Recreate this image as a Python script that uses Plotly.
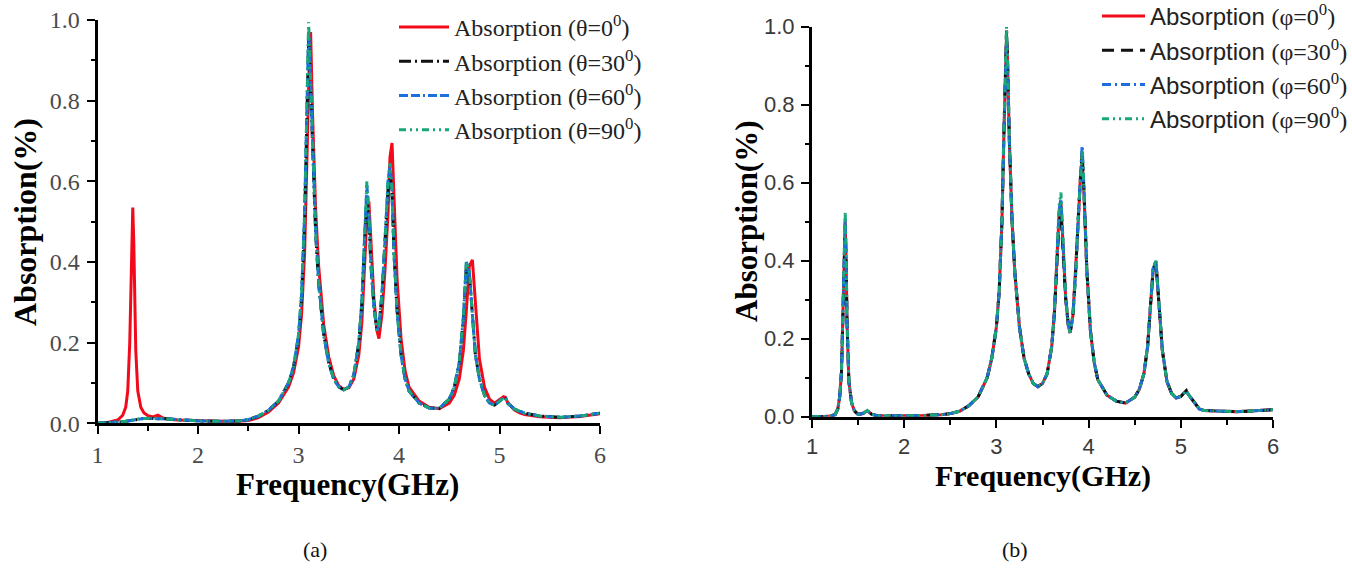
import plotly.graph_objects as go

# ---------------- data ----------------
FREQ_GHZ = [
    1.00, 1.10, 1.20, 1.25, 1.28, 1.30, 1.32, 1.34, 1.35, 1.36,
    1.37, 1.38, 1.40, 1.43, 1.46, 1.50, 1.55, 1.60, 1.65, 1.70,
    1.80, 1.90, 2.00, 2.20, 2.40, 2.50, 2.60, 2.70, 2.80, 2.90,
    2.95, 3.00, 3.03, 3.06, 3.08, 3.10, 3.11, 3.12, 3.14, 3.17,
    3.20, 3.25, 3.30, 3.35, 3.40, 3.45, 3.50, 3.55, 3.60, 3.63,
    3.66, 3.68, 3.70, 3.72, 3.75, 3.78, 3.80, 3.83, 3.86, 3.89,
    3.91, 3.93, 3.95, 3.98, 4.02, 4.06, 4.10, 4.20, 4.30, 4.40,
    4.50, 4.55, 4.60, 4.64, 4.67, 4.70, 4.73, 4.76, 4.80, 4.85,
    4.90, 4.95, 5.00, 5.04, 5.06, 5.08, 5.15, 5.20, 5.25, 5.40,
    5.60, 5.80, 6.00,
]

# (a) incidence angle theta
THETA_0 = [
    0.000, 0.002, 0.008, 0.020, 0.040, 0.080, 0.200, 0.440, 0.535, 0.450,
    0.300, 0.180, 0.080, 0.040, 0.026, 0.019, 0.016, 0.020, 0.013, 0.010,
    0.008, 0.007, 0.006, 0.005, 0.005, 0.007, 0.014, 0.028, 0.050, 0.090,
    0.125, 0.190, 0.270, 0.420, 0.620, 0.850, 0.930, 0.970, 0.760, 0.530,
    0.390, 0.245, 0.165, 0.118, 0.093, 0.084, 0.088, 0.110, 0.170, 0.250,
    0.400, 0.510, 0.550, 0.450, 0.310, 0.230, 0.210, 0.270, 0.380, 0.520,
    0.660, 0.695, 0.550, 0.360, 0.210, 0.130, 0.090, 0.055, 0.040, 0.036,
    0.050, 0.070, 0.110, 0.180, 0.280, 0.390, 0.405, 0.290, 0.160, 0.090,
    0.060, 0.050, 0.058, 0.066, 0.064, 0.052, 0.033, 0.026, 0.022, 0.016,
    0.014, 0.017, 0.024,
]
THETA_30 = [
    0.000, 0.001, 0.003, 0.004, 0.005, 0.006, 0.007, 0.008, 0.008, 0.009,
    0.009, 0.010, 0.010, 0.011, 0.012, 0.012, 0.012, 0.012, 0.011, 0.011,
    0.009, 0.007, 0.006, 0.005, 0.006, 0.009, 0.018, 0.032, 0.055, 0.100,
    0.140, 0.215, 0.310, 0.500, 0.720, 0.950, 0.900, 0.830, 0.660, 0.470,
    0.345, 0.220, 0.150, 0.110, 0.090, 0.083, 0.090, 0.120, 0.200, 0.300,
    0.470, 0.550, 0.500, 0.390, 0.290, 0.230, 0.240, 0.320, 0.450, 0.580,
    0.620, 0.570, 0.420, 0.280, 0.170, 0.110, 0.080, 0.050, 0.038, 0.037,
    0.060, 0.090, 0.150, 0.260, 0.390, 0.370, 0.270, 0.170, 0.110, 0.070,
    0.050, 0.045, 0.055, 0.064, 0.062, 0.050, 0.035, 0.030, 0.025, 0.018,
    0.015, 0.018, 0.025,
]
THETA_60 = [
    0.000, 0.001, 0.003, 0.004, 0.005, 0.006, 0.007, 0.008, 0.008, 0.009,
    0.009, 0.010, 0.010, 0.011, 0.012, 0.012, 0.012, 0.012, 0.011, 0.011,
    0.009, 0.007, 0.006, 0.005, 0.006, 0.009, 0.018, 0.032, 0.055, 0.100,
    0.140, 0.220, 0.320, 0.520, 0.750, 0.970, 0.920, 0.850, 0.670, 0.480,
    0.350, 0.220, 0.150, 0.110, 0.090, 0.083, 0.090, 0.120, 0.200, 0.300,
    0.480, 0.590, 0.520, 0.400, 0.290, 0.230, 0.240, 0.320, 0.450, 0.600,
    0.640, 0.580, 0.420, 0.280, 0.170, 0.110, 0.080, 0.050, 0.038, 0.037,
    0.060, 0.090, 0.150, 0.260, 0.400, 0.375, 0.270, 0.170, 0.110, 0.070,
    0.050, 0.045, 0.055, 0.064, 0.062, 0.050, 0.035, 0.030, 0.025, 0.018,
    0.015, 0.018, 0.025,
]
THETA_90 = [
    0.000, 0.001, 0.003, 0.004, 0.005, 0.006, 0.007, 0.008, 0.009, 0.009,
    0.010, 0.010, 0.011, 0.012, 0.012, 0.013, 0.013, 0.012, 0.011, 0.010,
    0.009, 0.007, 0.006, 0.005, 0.006, 0.009, 0.018, 0.032, 0.055, 0.100,
    0.140, 0.220, 0.320, 0.520, 0.750, 0.995, 0.930, 0.860, 0.680, 0.480,
    0.350, 0.220, 0.150, 0.110, 0.090, 0.083, 0.090, 0.120, 0.200, 0.300,
    0.480, 0.600, 0.520, 0.400, 0.290, 0.230, 0.240, 0.320, 0.450, 0.600,
    0.645, 0.580, 0.420, 0.280, 0.170, 0.110, 0.080, 0.050, 0.038, 0.037,
    0.060, 0.090, 0.150, 0.260, 0.400, 0.375, 0.270, 0.170, 0.110, 0.070,
    0.050, 0.045, 0.055, 0.064, 0.062, 0.050, 0.035, 0.030, 0.025, 0.018,
    0.015, 0.018, 0.025,
]

# (b) polarization angle phi
PHI_0 = [
    0.000, 0.000, 0.002, 0.005, 0.020, 0.050, 0.115, 0.290, 0.430, 0.500,
    0.400, 0.240, 0.090, 0.035, 0.015, 0.006, 0.008, 0.015, 0.006, 0.003,
    0.002, 0.002, 0.002, 0.003, 0.005, 0.008, 0.014, 0.028, 0.050, 0.100,
    0.150, 0.230, 0.320, 0.500, 0.710, 0.920, 0.980, 0.920, 0.710, 0.500,
    0.370, 0.230, 0.150, 0.110, 0.085, 0.077, 0.085, 0.110, 0.180, 0.270,
    0.410, 0.520, 0.550, 0.450, 0.310, 0.235, 0.215, 0.260, 0.370, 0.510,
    0.610, 0.660, 0.570, 0.380, 0.220, 0.140, 0.095, 0.055, 0.040, 0.035,
    0.050, 0.070, 0.110, 0.180, 0.280, 0.375, 0.395, 0.300, 0.170, 0.090,
    0.060, 0.048, 0.052, 0.062, 0.066, 0.058, 0.035, 0.020, 0.016, 0.014,
    0.013, 0.015, 0.018,
]
PHI_30 = [
    0.000, 0.000, 0.002, 0.005, 0.020, 0.050, 0.115, 0.285, 0.425, 0.490,
    0.395, 0.240, 0.090, 0.035, 0.015, 0.006, 0.008, 0.015, 0.006, 0.003,
    0.002, 0.002, 0.002, 0.003, 0.005, 0.008, 0.014, 0.028, 0.050, 0.100,
    0.150, 0.230, 0.320, 0.500, 0.715, 0.925, 0.990, 0.925, 0.715, 0.500,
    0.370, 0.230, 0.150, 0.110, 0.085, 0.077, 0.085, 0.110, 0.180, 0.270,
    0.400, 0.500, 0.520, 0.440, 0.305, 0.235, 0.215, 0.260, 0.370, 0.520,
    0.620, 0.680, 0.580, 0.380, 0.220, 0.140, 0.095, 0.055, 0.040, 0.035,
    0.050, 0.070, 0.110, 0.180, 0.280, 0.378, 0.398, 0.300, 0.170, 0.090,
    0.060, 0.048, 0.052, 0.062, 0.067, 0.058, 0.035, 0.020, 0.016, 0.014,
    0.013, 0.015, 0.018,
]
PHI_60 = [
    0.000, 0.000, 0.002, 0.005, 0.020, 0.050, 0.118, 0.295, 0.440, 0.510,
    0.410, 0.245, 0.090, 0.035, 0.015, 0.006, 0.008, 0.015, 0.006, 0.003,
    0.002, 0.002, 0.002, 0.003, 0.005, 0.008, 0.014, 0.028, 0.050, 0.100,
    0.150, 0.230, 0.320, 0.500, 0.710, 0.910, 0.970, 0.910, 0.710, 0.500,
    0.370, 0.230, 0.150, 0.110, 0.085, 0.077, 0.085, 0.110, 0.180, 0.270,
    0.415, 0.530, 0.560, 0.455, 0.310, 0.235, 0.215, 0.260, 0.370, 0.525,
    0.630, 0.695, 0.585, 0.380, 0.220, 0.140, 0.095, 0.055, 0.040, 0.035,
    0.050, 0.070, 0.110, 0.180, 0.280, 0.380, 0.400, 0.300, 0.170, 0.090,
    0.060, 0.048, 0.052, 0.062, 0.067, 0.058, 0.035, 0.020, 0.016, 0.014,
    0.013, 0.015, 0.018,
]
PHI_90 = [
    0.000, 0.000, 0.002, 0.005, 0.020, 0.050, 0.120, 0.300, 0.450, 0.525,
    0.420, 0.250, 0.090, 0.035, 0.015, 0.006, 0.008, 0.016, 0.006, 0.003,
    0.002, 0.002, 0.002, 0.003, 0.005, 0.008, 0.014, 0.028, 0.050, 0.100,
    0.150, 0.230, 0.320, 0.500, 0.720, 0.930, 1.000, 0.930, 0.720, 0.500,
    0.370, 0.230, 0.150, 0.110, 0.085, 0.077, 0.085, 0.110, 0.180, 0.270,
    0.420, 0.540, 0.575, 0.460, 0.310, 0.235, 0.215, 0.260, 0.370, 0.520,
    0.620, 0.680, 0.580, 0.380, 0.220, 0.140, 0.095, 0.055, 0.040, 0.035,
    0.050, 0.070, 0.110, 0.180, 0.280, 0.380, 0.400, 0.300, 0.170, 0.090,
    0.060, 0.048, 0.052, 0.062, 0.067, 0.058, 0.035, 0.020, 0.016, 0.014,
    0.013, 0.015, 0.018,
]

THETA_NAMES = ["Absorption (θ=0<sup>0</sup>)", "Absorption (θ=30<sup>0</sup>)",
               "Absorption (θ=60<sup>0</sup>)", "Absorption (θ=90<sup>0</sup>)"]
PHI_ANGLES = ["0", "30", "60", "90"]
X_TICKS = [1, 2, 3, 4, 5, 6]
Y_TICKS = [0.0, 0.2, 0.4, 0.6, 0.8, 1.0]
Y_TICK_TEXT = ["0.0", "0.2", "0.4", "0.6", "0.8", "1.0"]

# ---------------- styles ----------------
W, H = 1352, 568
COLORS = ["#f20a1a", "#111111", "#1a6fdc", "#18a67a"]
DASH_A = ["solid", "12px,4px,2px,4px", "9px,3px,9px,3px,2px,3px", "7px,4px,2px,4px,2px,4px"]
DASH_B = ["solid", "12px,7px", "9px,4px,2px,4px", "7px,4px,2px,4px,2px,4px"]
SERIF = "Liberation Serif"
SANS = "Liberation Sans"
LW = 3

fig = go.Figure()

left_series = [THETA_0, THETA_30, THETA_60, THETA_90]
for i, ys in enumerate(left_series):
    fig.add_trace(go.Scatter(
        x=FREQ_GHZ, y=ys, mode="lines", name=THETA_NAMES[i],
        xaxis="x", yaxis="y", legend="legend", legendgroup="a%d" % i,
        line=dict(color=COLORS[i], width=LW, dash=DASH_A[i]),
    ))

right_series = [PHI_0, PHI_30, PHI_60, PHI_90]
for i, ys in enumerate(right_series):
    nm = 'Absorption <span style="font-family:%s">(φ=%s<sup>0</sup>)</span>' % (SERIF, PHI_ANGLES[i])
    fig.add_trace(go.Scatter(
        x=FREQ_GHZ, y=ys, mode="lines", name=nm,
        xaxis="x2", yaxis="y2", legend="legend2", legendgroup="b%d" % i,
        line=dict(color=COLORS[i], width=LW, dash=DASH_B[i]),
    ))


def px_x(p):
    return p / W


def px_y(p):
    return 1 - p / H


def xaxis_style(domain, anchor, font, standoff):
    return dict(
        domain=domain, anchor=anchor, range=[1, 6], tickvals=X_TICKS,
        showline=True, linecolor="black", linewidth=3, mirror=False,
        ticks="outside", ticklen=8, tickwidth=2, tickcolor="black",
        tickfont=font, showgrid=False, zeroline=False, ticklabelstandoff=standoff,
        minor=dict(dtick=0.5, tick0=1, ticks="outside", ticklen=5, tickwidth=2,
                   tickcolor="black", showgrid=False),
    )


def yaxis_style(domain, anchor, font, standoff):
    return dict(
        domain=domain, anchor=anchor, range=[0, 1], tickvals=Y_TICKS,
        ticktext=Y_TICK_TEXT,
        showline=True, linecolor="black", linewidth=3, mirror=False,
        ticks="outside", ticklen=8, tickwidth=2, tickcolor="black",
        tickfont=font, showgrid=False, zeroline=False, ticklabelstandoff=standoff,
        minor=dict(dtick=0.1, tick0=0, ticks="outside", ticklen=4, tickwidth=2,
                   tickcolor="black", showgrid=False),
    )


font_a = dict(family=SERIF, size=24, color="#4a4a4a")
font_b = dict(family=SANS, size=22, color="#3a3a3a")

fig.update_layout(
    width=W, height=H,
    margin=dict(l=0, r=0, t=0, b=0, autoexpand=False),
    paper_bgcolor="white", plot_bgcolor="white",
    showlegend=True,
    xaxis=xaxis_style([px_x(97.6), px_x(600)], "y", font_a, 0),
    yaxis=yaxis_style([px_y(423.3), px_y(20)], "x", font_a, 2),
    xaxis2=xaxis_style([px_x(812), px_x(1273)], "y2", font_b, 0),
    yaxis2=yaxis_style([px_y(416.7), px_y(26.7)], "x2", font_b, 2),
    legend=dict(
        x=px_x(394), y=px_y(5), xanchor="left", yanchor="top",
        bgcolor="rgba(0,0,0,0)", borderwidth=0,
        font=dict(family=SERIF, size=24, color="#222222"),
        tracegroupgap=0, itemwidth=50,
    ),
    legend2=dict(
        x=px_x(1097), y=px_y(-6), xanchor="left", yanchor="top",
        bgcolor="rgba(0,0,0,0)", borderwidth=0,
        font=dict(family=SANS, size=24, color="#222222"),
        tracegroupgap=0, itemwidth=43,
    ),
)

title_font_a = dict(family=SERIF, size=31, color="black")
title_font_b = dict(family=SERIF, size=30, color="black")
annos = [
    dict(text="<b>Absorption(%)</b>", x=px_x(25), y=px_y(222), textangle=-90, font=dict(family=SERIF, size=32, color="black")),
    dict(text="<b>Frequency(GHz)</b>", x=px_x(347), y=px_y(484), font=title_font_a),
    dict(text="<b>Absorption(%)</b>", x=px_x(746), y=px_y(221), textangle=-90, font=dict(family=SERIF, size=31, color="black")),
    dict(text="<b>Frequency(GHz)</b>", x=px_x(1043), y=px_y(476), font=title_font_b),
    dict(text="(a)", x=px_x(315), y=px_y(549), font=dict(family=SERIF, size=22, color="#111111")),
    dict(text="(b)", x=px_x(1015), y=px_y(549), font=dict(family=SERIF, size=22, color="#111111")),
]
for a in annos:
    a.update(xref="paper", yref="paper", xanchor="center", yanchor="middle", showarrow=False)
fig.update_layout(annotations=annos)

fig.write_html("out.html")
